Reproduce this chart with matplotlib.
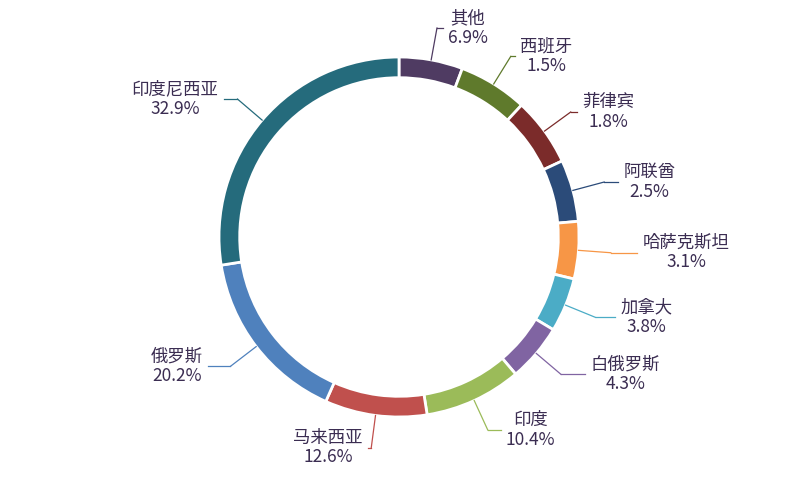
import numpy as np
import matplotlib.pyplot as plt

plt.rcParams['font.family'] = 'sans-serif'
plt.rcParams['font.sans-serif'] = ['Noto Sans CJK JP', 'Noto Sans CJK SC', 'DejaVu Sans']

names = ['其他', '西班牙', '菲律宾', '阿联酋', '哈萨克斯坦', '加拿大', '白俄罗斯', '印度', '马来西亚', '俄罗斯', '印度尼西亚']
pct_labels = ['6.9%', '1.5%', '1.8%', '2.5%', '3.1%', '3.8%', '4.3%', '10.4%', '12.6%', '20.2%', '32.9%']
# slice sizes as drawn (degrees)
sizes = [20.6, 22.3, 22.1, 20.0, 18.5, 17.5, 18.6, 31.4, 33.0, 57.0, 99.0]
colors = ['#4f3b62', '#5f7a2c', '#7b2b2a', '#2b4b79', '#f79646', '#4bacc6',
          '#8064a2', '#9bbb59', '#c0504d', '#4f81bd', '#256b7c']
# label centres in pixels
label_px = [(485, 28), (565, 55), (627, 105), (668, 170), (703, 250), (665, 325),
            (643, 393), (543, 455), (310, 470), (158, 375), (158, 97)]

cx, cy, R = 399, 237, 180
fig = plt.figure(figsize=(8, 5), dpi=100)
ax = fig.add_axes([0, 0, 1, 1])

wedges, _ = ax.pie(sizes, colors=colors, startangle=90, counterclock=False,
                   radius=1.0, wedgeprops=dict(width=0.115, edgecolor='white', linewidth=2))
ax.set_xlim(-cx / R, (800 - cx) / R)
ax.set_ylim(-(500 - cy) / R, cy / R)
ax.axis('off')

tc = '#3b2d52'
for w, name, p, (lx, ly), c in zip(wedges, names, pct_labels, label_px, colors):
    a = np.deg2rad((w.theta1 + w.theta2) / 2)
    x0, y0 = np.cos(a), np.sin(a)
    tx, ty = (lx - cx) / R, (cy - ly) / R
    side = 1 if tx > 0 else -1
    ex, ey = np.cos(a) * 1.18, np.sin(a) * 1.18
    hx = tx - side * (0.05 + 0.043 * len(name) * 1.0 + 0.1)
    ax.plot([x0, ex, hx], [y0, ey, ty], color=c, lw=0.9) if False else None
    ax.plot([x0, ex], [y0, ey], color=c, lw=0.9)
    ax.plot([ex, hx], [ey, ey], color=c, lw=0.9)
    ax.text(hx + side * 0.03, ey, name + '\n' + p, ha='left' if side > 0 else 'right',
            va='center', fontsize=12.5, color=tc, linespacing=1.1,
            multialignment='center')

fig.savefig('out.png', dpi=100)
